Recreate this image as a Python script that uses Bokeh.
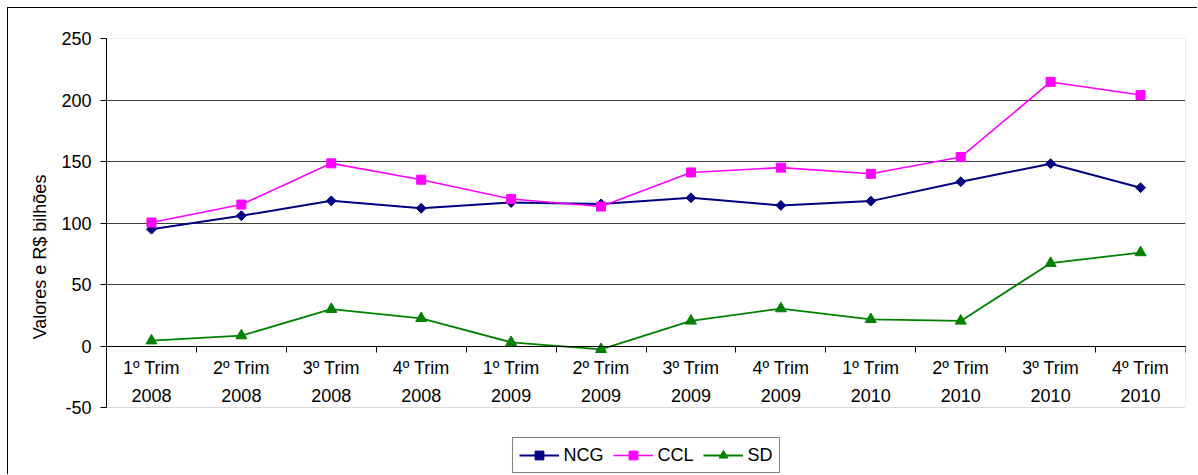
from bokeh.plotting import figure
from bokeh.models import (FactorRange, Range1d, FixedTicker, LinearAxis, Legend,
                          LegendItem, BoxAnnotation)
from bokeh.embed import file_html
from bokeh.resources import INLINE
import math

# Quarterly values (R$ bilhões)
categories = ["1º Trim\n2008", "2º Trim\n2008", "3º Trim\n2008", "4º Trim\n2008",
              "1º Trim\n2009", "2º Trim\n2009", "3º Trim\n2009", "4º Trim\n2009",
              "1º Trim\n2010", "2º Trim\n2010", "3º Trim\n2010", "4º Trim\n2010"]
ncg = [95.0, 105.9, 118.0, 112.0, 116.7, 115.5, 120.5, 114.3, 117.8, 133.5, 148.2, 128.7]
ccl = [100.4, 115.0, 148.5, 135.2, 119.5, 113.4, 141.1, 145.0, 140.0, 153.6, 214.7, 204.0]
sd = [4.3, 8.4, 29.9, 22.5, 3.0, -2.7, 20.4, 30.4, 21.7, 20.4, 67.3, 76.0]
y_ticks = [-50, 0, 50, 100, 150, 200, 250]
y_min, y_max = -50, 250

FONT = "Liberation Sans"
OFF = 8            # outer chart border (margin + 1px line)
PLOT_TOP = 38      # top of the value area on the page
PLOT_BOTTOM = 407  # bottom of the value area on the page
PAGE_H = 475

# the frame runs to the bottom of the canvas so the legend can sit beneath the value area
px_per_unit = (PLOT_BOTTOM - PLOT_TOP) / (y_max - y_min)
y_start = y_min - (PAGE_H - PLOT_BOTTOM) / px_per_unit

p = figure(width=1198 - OFF, height=PAGE_H - OFF,
           x_range=FactorRange(factors=categories, range_padding=0),
           y_range=Range1d(y_start, y_max), output_backend="svg", toolbar_location=None,
           min_border_left=106 - OFF, min_border_right=13, min_border_top=PLOT_TOP - OFF,
           min_border_bottom=0)
p.margin = (7, 0, 0, 7)
p.styles = {"border-left": "1px solid black", "border-top": "1px solid black"}
p.background_fill_color = "white"
p.border_fill_color = "white"
p.outline_line_color = None

# grey plot-area border, kept under the grid lines
area = BoxAnnotation(bottom=y_min, top=y_max, fill_color=None,
                     line_color="#808080", line_width=1, level="underlay")
p.center.insert(0, area)

# value axis
yax = p.yaxis[0]
yax.bounds = (y_min, y_max)
yax.ticker = FixedTicker(ticks=y_ticks)
yax.major_label_overrides = {t: str(t) for t in y_ticks}
yax.minor_tick_line_color = None
yax.major_tick_out = 6
yax.major_tick_in = 0
yax.major_label_standoff = 9
yax.axis_line_color = "black"
yax.major_tick_line_color = "black"
yax.major_label_text_font = FONT
yax.major_label_text_font_size = "18px"
yax.major_label_text_color = "black"
yax.axis_label = "Valores e R$ bilhões"
yax.axis_label_text_font = FONT
yax.axis_label_text_font_size = "18px"
yax.axis_label_text_font_style = "normal"
yax.axis_label_text_color = "black"
yax.axis_label_standoff = 8

p.ygrid.ticker = FixedTicker(ticks=[t for t in y_ticks if t > y_min])
p.ygrid.grid_line_color = "#404040"
p.ygrid.grid_line_width = 1
p.xgrid.grid_line_color = None

# category axis crossing at zero
xax = p.xaxis[0]
xax.fixed_location = 0
xax.major_tick_line_color = None
xax.major_tick_out = 0
xax.major_tick_in = 0
xax.axis_line_color = "black"
xax.major_label_standoff = 12
xax.major_label_text_font = FONT
xax.major_label_text_font_size = "18px"
xax.major_label_text_color = "black"
xax.major_label_text_line_height = 1.42

# tick marks between categories
bounds = list(range(len(categories) + 1))
tick_axis = LinearAxis(ticker=FixedTicker(ticks=bounds), fixed_location=0,
                       major_tick_out=6, major_tick_in=0, minor_tick_line_color=None,
                       major_label_overrides={b: "" for b in bounds},
                       axis_line_color="black", major_tick_line_color="black")
p.add_layout(tick_axis, "below")

series = [("NCG", ncg, "#000080", "square", 7, math.pi / 4, 2.0),
          ("CCL", ccl, "#FF00FF", "square", 9, 0, 1.6),
          ("SD", sd, "#008000", "triangle", 11, 0, 1.8)]

items = []
for name, vals, color, marker, size, angle, lw in series:
    ln = p.line(categories, vals, line_color=color, line_width=lw)
    mk = p.scatter(categories, vals, marker=marker, size=size, angle=angle,
                   fill_color=color, line_color=color)
    items.append(LegendItem(label=name, renderers=[ln, mk]))

legend = Legend(items=items, orientation="horizontal", location="bottom_center",
                border_line_color="black", border_line_width=1,
                label_text_font=FONT, label_text_font_size="18px",
                label_text_color="black",
                glyph_width=40, glyph_height=22, label_height=20,
                label_standoff=5, spacing=9, padding=6, margin=2,
                background_fill_color="white", background_fill_alpha=1.0)
p.add_layout(legend, "center")

open("out.html", "w").write(file_html(p, INLINE))
